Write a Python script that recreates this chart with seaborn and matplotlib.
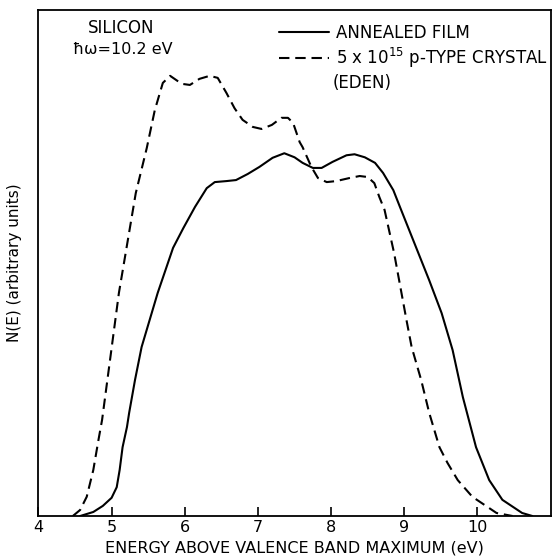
import numpy as np
import pandas as pd
import matplotlib
matplotlib.use("Agg")
import matplotlib.pyplot as plt
import seaborn as sns

# Energy (eV) and N(E) (arbitrary units, 0-100 of plot height)
film_E = [4.57, 4.75, 4.88, 5.00, 5.07, 5.11, 5.15, 5.21, 5.24, 5.32, 5.41, 5.63,
          5.84, 5.98, 6.14, 6.30, 6.41, 6.57, 6.70, 6.86, 7.02, 7.20, 7.36, 7.50,
          7.61, 7.75, 7.87, 8.02, 8.21, 8.32, 8.46, 8.60, 8.71, 8.85, 8.94, 9.34,
          9.51, 9.66, 9.80, 9.98, 10.16, 10.34, 10.61, 10.75]
film_N = [0.0, 0.8, 2.0, 3.6, 5.7, 9.1, 13.6, 17.6, 20.4, 26.9, 33.4, 44.1,
          53.0, 56.9, 61.1, 64.8, 66.0, 66.2, 66.4, 67.6, 69.0, 70.8, 71.7, 70.9,
          69.8, 68.8, 68.8, 70.0, 71.3, 71.5, 70.9, 69.8, 67.8, 64.4, 61.1, 46.6,
          40.1, 32.8, 23.5, 13.6, 7.1, 3.2, 0.6, 0.0]

crystal_E = [4.47, 4.57, 4.66, 4.75, 4.82, 4.87, 5.10, 5.33, 5.48, 5.59, 5.70, 5.80,
             5.90, 5.97, 6.07, 6.20, 6.34, 6.45, 6.57, 6.68, 6.79, 6.93, 7.05, 7.19,
             7.32, 7.41, 7.48, 7.57, 7.61, 7.73, 7.82, 7.94, 8.07, 8.25, 8.39, 8.50,
             8.59, 8.66, 8.73, 8.86, 9.03, 9.10, 9.23, 9.34, 9.48, 9.59, 9.73, 9.93,
             10.26, 10.48]
crystal_N = [0.0, 1.2, 3.8, 9.1, 15.0, 19.0, 44.1, 63.8, 72.7, 80.2, 85.6, 87.0,
             86.0, 85.4, 85.2, 86.4, 87.0, 86.6, 83.6, 80.6, 78.3, 76.9, 76.5, 77.3,
             78.7, 78.7, 77.7, 73.9, 72.9, 69.0, 66.8, 66.0, 66.2, 66.8, 67.2, 67.0,
             65.8, 63.0, 60.5, 52.0, 38.7, 33.4, 26.9, 20.4, 13.6, 10.5, 7.1, 3.8,
             0.6, 0.0]

series_labels = ["ANNEALED FILM", "5 x 10$^{15}$ p-TYPE CRYSTAL"]
x_ticks = [4, 5, 6, 7, 8, 9, 10]

df = pd.concat([
    pd.DataFrame({"E": film_E, "N": film_N, "series": series_labels[0]}),
    pd.DataFrame({"E": crystal_E, "N": crystal_N, "series": series_labels[1]}),
], ignore_index=True)

sns.set_style("white")
plt.rcParams["font.family"] = ["DejaVu Sans"]
plt.rcParams["text.color"] = "black"
plt.rcParams["axes.labelcolor"] = "black"
plt.rcParams["xtick.color"] = "black"

fig = plt.figure(figsize=(5.52, 5.56), dpi=100)
ax = fig.add_axes([0.0696, 0.0719, 0.928, 0.910])

sns.lineplot(data=df, x="E", y="N", hue="series", style="series",
             palette={series_labels[0]: "black", series_labels[1]: "black"},
             dashes={series_labels[0]: "", series_labels[1]: (5, 2.8)},
             sort=False, estimator=None, linewidth=1.5, ax=ax)
for ln in ax.lines:
    ln.set_solid_joinstyle("round")
    ln.set_dash_joinstyle("round")

ax.set_xlim(4, 11)
ax.set_ylim(0, 100)
ax.set_xticks(x_ticks)
ax.set_xticklabels([str(t) for t in x_ticks], fontsize=11.5)
ax.set_yticks([])
ax.tick_params(axis="x", direction="in", length=6.5, width=1.2, bottom=True,
               pad=3, colors="black")
for s in ax.spines.values():
    s.set_color("black")
    s.set_linewidth(1.3)

ax.set_xlabel("ENERGY ABOVE VALENCE BAND MAXIMUM (eV)", fontsize=11.5,
              va="bottom")
ax.xaxis.set_label_coords(0.5, -0.0775)
ax.set_ylabel("N(E) (arbitrary units)", fontsize=11, labelpad=12)

ax.text(0.162, 0.964, "SILICON", transform=ax.transAxes, fontsize=12,
        ha="center", va="center")
ax.text(0.165, 0.923, "ħω=10.2 eV", transform=ax.transAxes, fontsize=11.5,
        ha="center", va="center")

leg = ax.legend(loc="upper left", bbox_to_anchor=(0.457, 0.985), frameon=False,
                fontsize=12, handlelength=3.0, handletextpad=0.4,
                labelspacing=0.22, borderaxespad=0, title=None)
ax.text(0.575, 0.855, "(EDEN)", transform=ax.transAxes, fontsize=12,
        ha="left", va="center")

fig.savefig("out.png", dpi=100)
